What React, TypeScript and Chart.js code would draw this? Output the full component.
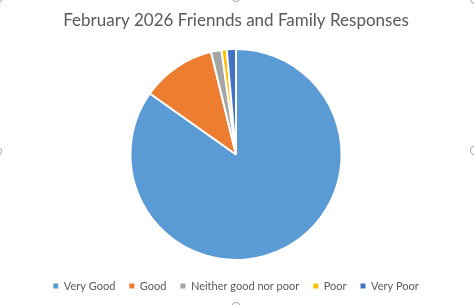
import React, { useEffect, useRef } from "react";
import { Chart, registerables } from "chart.js";

Chart.register(...registerables);

const TITLE = "February 2026 Friennds and Family Responses";
const categories = ["Very Good", "Good", "Neither good nor poor", "Poor", "Very Poor"];
const responses = [424, 57, 8, 4, 7];
const colors = ["#5B9BD5", "#ED7D31", "#A5A5A5", "#FFC000", "#4472C4"];

const handlesPlugin = {
  id: "handles",
  afterDraw(chart: any) {
    const { ctx, width, height } = chart;
    const pts = [
      [-2, -2], [width / 2 - 1, -3], [width + 1, -1],
      [-3, height / 2 - 1], [width + 1, height / 2 - 2],
      [width / 2 - 1, height + 2],
    ];
    ctx.save();
    ctx.strokeStyle = "#9a9a9a";
    ctx.lineWidth = 1;
    for (const [x, y] of pts) {
      ctx.beginPath();
      ctx.arc(x, y, 4.5, 0, Math.PI * 2);
      ctx.stroke();
    }
    ctx.restore();
  },
};

export default function App() {
  const ref = useRef<HTMLCanvasElement | null>(null);
  useEffect(() => {
    document.body.style.margin = "0";
    const baseGen = (Chart as any).overrides.pie.plugins.legend.labels.generateLabels;
    const chart = new Chart(ref.current!, {
      type: "pie",
      data: {
        labels: categories,
        datasets: [
          {
            data: responses,
            backgroundColor: colors,
            borderColor: "#ffffff",
            borderWidth: 2,
          },
        ],
      },
      options: {
        animation: false,
        responsive: false,
        maintainAspectRatio: false,
        layout: { padding: { top: 0, bottom: 3.5, left: 0, right: 2 } },
        plugins: {
          title: {
            display: true,
            text: TITLE,
            color: "#595959",
            font: { family: "Lato", size: 17, weight: "normal" },
            padding: { top: 10, bottom: 17.5 },
          },
          legend: {
            position: "bottom",
            title: {
              display: true,
              text: "",
              font: { size: 5.5, lineHeight: 1 },
              padding: 0,
            },
            labels: {
              color: "#595959",
              font: { family: "Lato", size: 11 },
              boxWidth: 5,
              boxHeight: 5,
              padding: 14,
              generateLabels: (c: any) =>
                baseGen(c).map((it: any) => ({ ...it, lineWidth: 0, strokeStyle: "rgba(0,0,0,0)" })),
            },
          },
          tooltip: { enabled: false },
        },
      },
      plugins: [handlesPlugin],
    });
    return () => chart.destroy();
  }, []);
  return (
    <div style={{ width: 474, height: 305, background: "#fff" }}>
      <canvas ref={ref} width={474} height={305} />
    </div>
  );
}
